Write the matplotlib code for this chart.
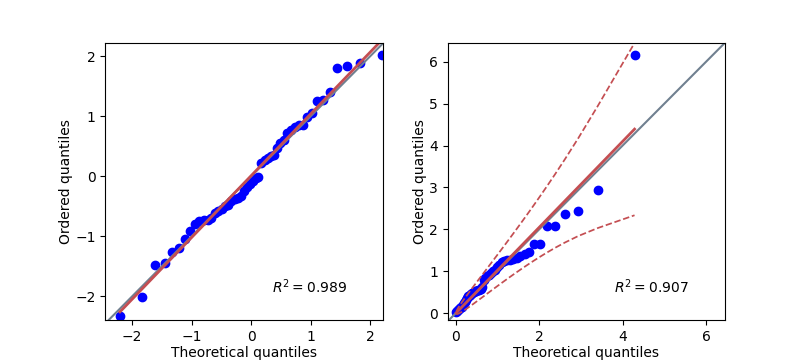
import matplotlib
matplotlib.use("Agg")
import matplotlib.pyplot as plt
import numpy as np

# Theoretical quantiles (n = 50) and ordered sample values
norm_theor = [-2.204, -1.833, -1.614, -1.453, -1.323, -1.212, -1.114, -1.026, -0.945, -0.87,
              -0.799, -0.732, -0.669, -0.608, -0.549, -0.492, -0.437, -0.382, -0.329, -0.277,
              -0.226, -0.175, -0.125, -0.075, -0.025, 0.025, 0.075, 0.125, 0.175, 0.226,
              0.277, 0.329, 0.382, 0.437, 0.492, 0.549, 0.608, 0.669, 0.732, 0.799,
              0.87, 0.945, 1.026, 1.114, 1.212, 1.323, 1.453, 1.614, 1.833, 2.204]
norm_obs = [-2.32, -2.01, -1.48, -1.45, -1.26, -1.20, -1.05, -0.91, -0.80, -0.75,
            -0.73, -0.72, -0.70, -0.61, -0.57, -0.55, -0.50, -0.48, -0.41, -0.38,
            -0.36, -0.33, -0.25, -0.18, -0.12, -0.08, -0.03, -0.01, 0.23, 0.28,
            0.31, 0.34, 0.36, 0.475, 0.56, 0.61, 0.73, 0.78, 0.83, 0.85,
            0.85, 0.99, 1.06, 1.25, 1.27, 1.41, 1.81, 1.84, 1.885, 2.02]

expo_theor = [0.014, 0.034, 0.055, 0.076, 0.098, 0.12, 0.142, 0.166, 0.189, 0.213,
              0.238, 0.264, 0.29, 0.317, 0.345, 0.373, 0.402, 0.432, 0.464, 0.496,
              0.529, 0.563, 0.598, 0.635, 0.673, 0.713, 0.755, 0.798, 0.843, 0.89,
              0.94, 0.992, 1.047, 1.105, 1.167, 1.233, 1.303, 1.379, 1.461, 1.551,
              1.649, 1.758, 1.88, 2.02, 2.182, 2.375, 2.616, 2.933, 3.399, 4.285]
expo_obs = [0.02, 0.05, 0.08, 0.10, 0.12, 0.14, 0.16, 0.20, 0.24, 0.28,
            0.32, 0.36, 0.40, 0.42, 0.44, 0.46, 0.48, 0.50, 0.52, 0.54,
            0.55, 0.56, 0.58, 0.62, 0.80, 0.84, 0.88, 0.92, 0.96, 1.00,
            1.04, 1.10, 1.14, 1.22, 1.24, 1.26, 1.28, 1.30, 1.32, 1.36,
            1.42, 1.46, 1.64, 1.64, 2.09, 2.09, 2.36, 2.45, 2.94, 6.15]

RED = "#c44e52"


def qq_panel(ax, theor, obs, xlim, ylim, band=False):
    theor = np.array(theor)
    obs = np.array(obs)
    slope, intercept = np.polyfit(theor, obs, 1)
    r = np.corrcoef(theor, obs)[0, 1]
    fit = slope * theor + intercept

    ax.plot(theor, obs, "o", color="blue")
    ax.axline((0, 0), slope=1, color="slategrey", lw=1.5)
    ax.plot(theor, fit, "-", color=RED, lw=2)

    if band:
        # 95% confidence envelope for an exponential reference distribution
        n = len(theor)
        p = (np.arange(1, n + 1) - 0.5) / n
        se = slope / np.exp(-theor) * np.sqrt(p * (1 - p) / n)
        ax.plot(theor, fit + 1.96 * se, "--", color=RED, lw=1.25)
        ax.plot(theor, fit - 1.96 * se, "--", color=RED, lw=1.25)

    ax.text(0.6, 0.1, "$R^2=%.3f$" % r ** 2, transform=ax.transAxes)
    ax.set_xlim(xlim)
    ax.set_ylim(ylim)
    ax.set_box_aspect(1)
    ax.set_xlabel("Theoretical quantiles", labelpad=1.5)
    ax.set_ylabel("Ordered quantiles", labelpad=1.5)


fig, (ax1, ax2) = plt.subplots(1, 2, figsize=(8.1, 3.6), dpi=100)
qq_panel(ax1, norm_theor, norm_obs, (-2.45, 2.21), (-2.40, 2.22))
qq_panel(ax2, expo_theor, expo_obs, (-0.19, 6.45), (-0.17, 6.44), band=True)

fig.savefig("out.png", dpi=100)
